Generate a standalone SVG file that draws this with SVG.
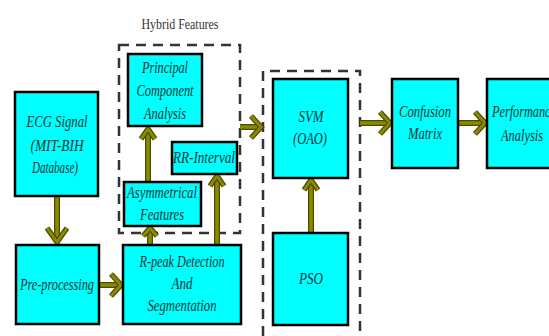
<svg xmlns="http://www.w3.org/2000/svg" width="549" height="336" viewBox="0 0 549 336">
<style>
.box{fill:#00ffff;stroke:#000;stroke-width:2.5}
.dash{fill:none;stroke:#333;stroke-width:2.5;stroke-dasharray:10 7}
.t{font-family:"Liberation Serif",serif;font-style:italic;font-size:16px;fill:#053535;text-anchor:middle}
.h{font-family:"Liberation Serif",serif;font-size:14px;fill:#333;text-anchor:middle}
.sh{stroke:#4a4a00;stroke-width:6;fill:none}
.sh2{stroke:#8a8a00;stroke-width:3.5;fill:none}
.hd{stroke:#4a4a00;stroke-width:5.5;fill:none;stroke-linecap:butt;stroke-linejoin:miter}
.hd2{stroke:#8a8a00;stroke-width:3;fill:none;stroke-linejoin:miter}
</style>
<rect width="549" height="336" fill="#fff"/>
<text class="h" x="180" y="29" textLength="77" lengthAdjust="spacingAndGlyphs">Hybrid Features</text>
<rect class="dash" x="119" y="45" width="121" height="188"/>
<path class="dash" d="M263,336 V71 H360 V336"/>
<g id="connectors">
<path class="sh" d="M57,196 V240 M99,285 H120 M150,245 V229 M148,182 V130 M217,245 V177 M240,127 H260 M311,233 V181 M360,123 H389 M458,123 H484"/>
<path class="sh2" d="M57,196 V240 M99,285 H120 M150,245 V229 M148,182 V130 M217,245 V177 M240,127 H260 M311,233 V181 M360,123 H389 M458,123 H484"/>
<path class="hd" d="M47,228 L57,242 L67,228 M111,274 L121,285 L111,296 M143,236 L150,228 L157,236 M141,139 L148,129 L155,139 M210,186 L217,176 L224,186 M251,116 L261,127 L251,138 M304,190 L311,180 L318,190 M380,112 L390,123 L380,134 M475,112 L485,123 L475,134"/>
<path class="hd2" d="M47,228 L57,242 L67,228 M111,274 L121,285 L111,296 M143,236 L150,228 L157,236 M141,139 L148,129 L155,139 M210,186 L217,176 L224,186 M251,116 L261,127 L251,138 M304,190 L311,180 L318,190 M380,112 L390,123 L380,134 M475,112 L485,123 L475,134"/>
</g>
<g id="ecg"><rect class="box" x="15" y="92" width="83" height="104"/>
<text class="t" x="57" y="127" textLength="61" lengthAdjust="spacingAndGlyphs">ECG Signal</text><text class="t" x="57" y="151" textLength="53" lengthAdjust="spacingAndGlyphs">(MIT-BIH</text><text class="t" x="55" y="173" textLength="46" lengthAdjust="spacingAndGlyphs">Database)</text></g>
<g id="pre"><rect class="box" x="16" y="245" width="83" height="79"/>
<text class="t" x="57" y="290" textLength="74" lengthAdjust="spacingAndGlyphs">Pre-processing</text></g>
<g id="rpeak"><rect class="box" x="123" y="245" width="118" height="79"/>
<text class="t" x="182" y="267" textLength="85" lengthAdjust="spacingAndGlyphs">R-peak Detection</text><text class="t" x="182" y="289" textLength="21" lengthAdjust="spacingAndGlyphs">And</text><text class="t" x="182" y="311" textLength="69" lengthAdjust="spacingAndGlyphs">Segmentation</text></g>
<g id="pca"><rect class="box" x="128" y="54" width="74" height="72"/>
<text class="t" x="165" y="73" textLength="46" lengthAdjust="spacingAndGlyphs">Principal</text><text class="t" x="165" y="96" textLength="57" lengthAdjust="spacingAndGlyphs">Component</text><text class="t" x="165" y="119" textLength="42" lengthAdjust="spacingAndGlyphs">Analysis</text></g>
<g id="rr"><rect class="box" x="172" y="142" width="65" height="32"/>
<text class="t" x="204" y="163" textLength="62" lengthAdjust="spacingAndGlyphs">RR-Interval</text></g>
<g id="asym"><rect class="box" x="124" y="182" width="77" height="44"/>
<text class="t" x="162" y="198" textLength="70" lengthAdjust="spacingAndGlyphs">Asymmetrical</text><text class="t" x="162" y="220" textLength="44" lengthAdjust="spacingAndGlyphs">Features</text></g>
<g id="svm"><rect class="box" x="273" y="79" width="75" height="99"/>
<text class="t" x="311" y="122" textLength="25" lengthAdjust="spacingAndGlyphs">SVM</text><text class="t" x="310" y="144" textLength="34" lengthAdjust="spacingAndGlyphs">(OAO)</text></g>
<g id="pso"><rect class="box" x="273" y="233" width="75" height="92"/>
<text class="t" x="311" y="284" textLength="24" lengthAdjust="spacingAndGlyphs">PSO</text></g>
<g id="confusion"><rect class="box" x="392" y="79" width="66" height="89"/>
<text class="t" x="425" y="117" textLength="52" lengthAdjust="spacingAndGlyphs">Confusion</text><text class="t" x="425" y="139" textLength="34" lengthAdjust="spacingAndGlyphs">Matrix</text></g>
<g id="performance"><rect class="box" x="487" y="79" width="74" height="89"/>
<text class="t" x="524" y="117" textLength="64" lengthAdjust="spacingAndGlyphs">Performance</text><text class="t" x="522" y="141" textLength="42" lengthAdjust="spacingAndGlyphs">Analysis</text></g>
</svg>
